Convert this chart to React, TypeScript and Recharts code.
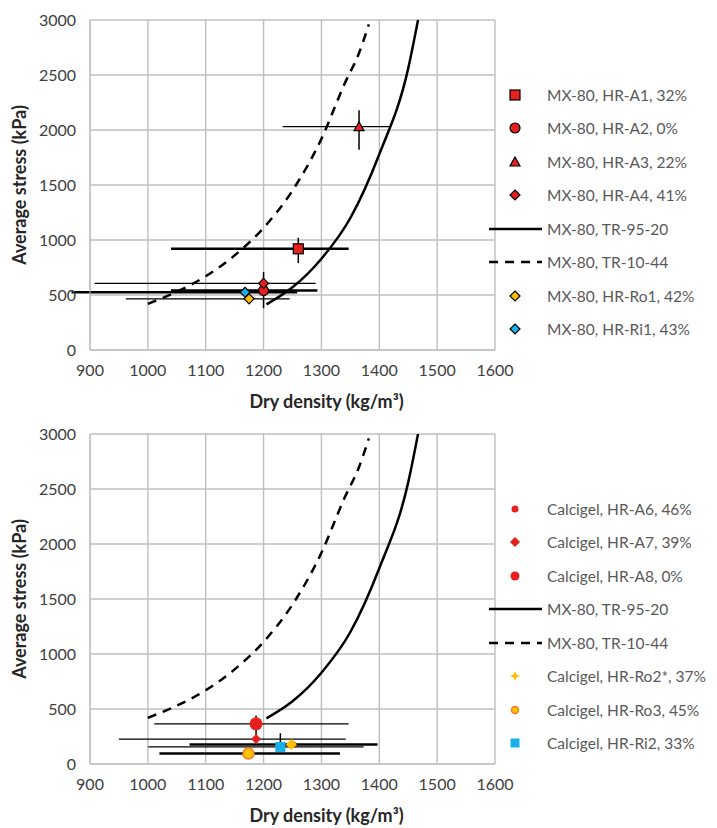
import {
  CartesianGrid,
  ComposedChart,
  ErrorBar,
  Line,
  Scatter,
  XAxis,
  YAxis,
} from 'recharts';

const densityTicks = [900, 1000, 1100, 1200, 1300, 1400, 1500, 1600];
const stressTicks = [0, 500, 1000, 1500, 2000, 2500, 3000];

// reference curves (same in both panels)
const tr9520 = [
  { x: 1205, y: 415 },
  { x: 1250, y: 570 },
  { x: 1300, y: 830 },
  { x: 1350, y: 1200 },
  { x: 1400, y: 1780 },
  { x: 1450, y: 2560 },
  { x: 1467, y: 3000 },
];
const tr1044 = [
  { x: 1000, y: 420 },
  { x: 1050, y: 530 },
  { x: 1100, y: 670 },
  { x: 1150, y: 860 },
  { x: 1200, y: 1110 },
  { x: 1250, y: 1450 },
  { x: 1300, y: 1920 },
  { x: 1340, y: 2420 },
  { x: 1365, y: 2700 },
  { x: 1382, y: 2960 },
];

// MX-80 tests (top panel); ex / ey = [minus, plus]
const hrA1 = [{ x: 1260, y: 920, ex: [220, 87], ey: [130, 100] }];
const hrA2 = [{ x: 1200, y: 540, ex: [160, 93], ey: [160, 170] }];
const hrA3 = [{ x: 1365, y: 2030, ex: [132, 52], ey: [210, 150] }];
const hrA4 = [{ x: 1200, y: 605, ex: [292, 90] }];
const hrRo1 = [{ x: 1175, y: 465, ex: [213, 70] }];
const hrRi1 = [{ x: 1168, y: 525, ex: [300, 90] }];

// Calcigel tests (bottom panel)
const hrA6 = [{ x: 1250, y: 178 }];
const hrA7 = [{ x: 1187, y: 227, ex: [237, 155] }];
const hrA8 = [{ x: 1187, y: 365, ex: [176, 160], ey: [140, 75] }];
const hrRo2 = [{ x: 1248, y: 178, ex: [176, 149] }];
const hrRo3 = [{ x: 1174, y: 95, ex: [154, 158] }];
const hrRi2 = [{ x: 1229, y: 155, ex: [228, 144], ey: [0, 125] }];

const RED = '#e5201f';
const YELLOW = '#ffc000';
const BLUE = '#1aafe6';
const GRID = '#bfbfbf';
const FONT = 'Lato, "Open Sans", sans-serif';

type Kind = 'square' | 'circle' | 'triangle' | 'diamond' | 'star';
interface MarkStyle {
  kind: Kind;
  size: number;
  fill: string;
  stroke?: string;
  sw?: number;
}

function Mark({ cx, cy, m }: { cx: number; cy: number; m: MarkStyle }) {
  const r = m.size / 2;
  const stroke = m.stroke ?? 'none';
  const sw = m.sw ?? 1.2;
  if (m.kind === 'square')
    return <rect x={cx - r} y={cy - r} width={m.size} height={m.size} fill={m.fill} stroke={stroke} strokeWidth={sw} />;
  if (m.kind === 'circle') return <circle cx={cx} cy={cy} r={r} fill={m.fill} stroke={stroke} strokeWidth={sw} />;
  if (m.kind === 'triangle')
    return (
      <polygon
        points={`${cx},${cy - r} ${cx + r},${cy + r * 0.8} ${cx - r},${cy + r * 0.8}`}
        fill={m.fill}
        stroke={stroke}
        strokeWidth={sw}
      />
    );
  if (m.kind === 'star') {
    const q = r * 0.3;
    return (
      <polygon
        points={`${cx},${cy - r} ${cx + q},${cy - q} ${cx + r},${cy} ${cx + q},${cy + q} ${cx},${cy + r} ${cx - q},${cy + q} ${cx - r},${cy} ${cx - q},${cy - q}`}
        fill={m.fill}
      />
    );
  }
  return (
    <polygon
      points={`${cx},${cy - r} ${cx + r},${cy} ${cx},${cy + r} ${cx - r},${cy}`}
      fill={m.fill}
      stroke={stroke}
      strokeWidth={sw}
    />
  );
}

interface PointSeries {
  name: string;
  data: { x: number; y: number; ex?: number[]; ey?: number[] }[];
  mark: MarkStyle;
  legendMark?: MarkStyle;
  exWidth?: number;
}

interface LegendRow {
  name: string;
  mark?: MarkStyle;
  line?: 'solid' | 'dash';
}

const topSeries: PointSeries[] = [
  { name: 'MX-80, HR-A1, 32%', data: hrA1, mark: { kind: 'square', size: 10, fill: RED, stroke: '#000' }, exWidth: 2.5 },
  { name: 'MX-80, HR-A2, 0%', data: hrA2, mark: { kind: 'circle', size: 10, fill: RED, stroke: '#000' }, exWidth: 2.5 },
  { name: 'MX-80, HR-A3, 22%', data: hrA3, mark: { kind: 'triangle', size: 10, fill: RED, stroke: '#000' }, exWidth: 1.3 },
  { name: 'MX-80, HR-A4, 41%', data: hrA4, mark: { kind: 'diamond', size: 10, fill: RED, stroke: '#000' }, exWidth: 1.3 },
  { name: 'MX-80, HR-Ro1, 42%', data: hrRo1, mark: { kind: 'diamond', size: 10, fill: YELLOW, stroke: '#000' }, exWidth: 1.3 },
  { name: 'MX-80, HR-Ri1, 43%', data: hrRi1, mark: { kind: 'diamond', size: 10, fill: BLUE, stroke: '#000' }, exWidth: 2.5 },
];

const bottomSeries: PointSeries[] = [
  { name: 'Calcigel, HR-A6, 46%', data: hrA6, mark: { kind: 'circle', size: 7, fill: RED } },
  { name: 'Calcigel, HR-A7, 39%', data: hrA7, mark: { kind: 'diamond', size: 10, fill: RED }, exWidth: 1.3 },
  { name: 'Calcigel, HR-A8, 0%', data: hrA8, mark: { kind: 'circle', size: 13, fill: RED }, legendMark: { kind: 'circle', size: 9, fill: RED }, exWidth: 1.3 },
  { name: 'Calcigel, HR-Ro2*, 37%', data: hrRo2, mark: { kind: 'diamond', size: 11, fill: YELLOW }, legendMark: { kind: 'star', size: 10, fill: YELLOW }, exWidth: 2.5 },
  { name: 'Calcigel, HR-Ro3, 45%', data: hrRo3, mark: { kind: 'circle', size: 11, fill: YELLOW, stroke: '#f07d2a', sw: 1.5 }, legendMark: { kind: 'circle', size: 7, fill: YELLOW, stroke: '#f07d2a', sw: 1.5 }, exWidth: 2.5 },
  { name: 'Calcigel, HR-Ri2, 33%', data: hrRi2, mark: { kind: 'square', size: 10, fill: BLUE }, legendMark: { kind: 'square', size: 9, fill: BLUE }, exWidth: 1.3 },
];

const topLegend: LegendRow[] = [
  ...topSeries.slice(0, 4).map((s) => ({ name: s.name, mark: s.mark })),
  { name: 'MX-80, TR-95-20', line: 'solid' as const },
  { name: 'MX-80, TR-10-44', line: 'dash' as const },
  ...topSeries.slice(4).map((s) => ({ name: s.name, mark: s.mark })),
];

const bottomLegend: LegendRow[] = [
  ...bottomSeries.slice(0, 3).map((s) => ({ name: s.name, mark: s.legendMark ?? s.mark })),
  { name: 'MX-80, TR-95-20', line: 'solid' as const },
  { name: 'MX-80, TR-10-44', line: 'dash' as const },
  ...bottomSeries.slice(3).map((s) => ({ name: s.name, mark: s.legendMark ?? s.mark })),
];

function LegendBox({ rows, top }: { rows: LegendRow[]; top: number }) {
  return (
    <div style={{ position: 'absolute', left: 488, top, width: 240 }}>
      {rows.map((r) => (
        <div key={r.name} style={{ height: 33.5, display: 'flex', alignItems: 'center' }}>
          <svg width={56} height={20} style={{ flex: 'none' }}>
            {r.line ? (
              <line
                x1={1}
                x2={54}
                y1={10}
                y2={10}
                stroke="#000"
                strokeWidth={2.5}
                strokeDasharray={r.line === 'dash' ? '9 7' : undefined}
              />
            ) : (
              r.mark && <Mark cx={27} cy={10} m={r.mark} />
            )}
          </svg>
          <span style={{ fontFamily: FONT, fontSize: 15.5, color: '#595959', whiteSpace: 'nowrap', marginLeft: 3 }}>
            {r.name}
          </span>
        </div>
      ))}
    </div>
  );
}

function Panel({ series, legend, top }: { series: PointSeries[]; legend: LegendRow[]; top: number }) {
  const tick = { fontFamily: FONT, fontSize: 16, fill: '#404040' };
  const title = { fontFamily: FONT, fontSize: 18, fontWeight: 700, fill: '#262626' };
  return (
    <div style={{ position: 'absolute', left: 0, top, width: 717, height: 414 }}>
      <ComposedChart width={717} height={414} margin={{ top: 20, right: 222, bottom: 4, left: 0 }}>
        <CartesianGrid stroke={GRID} strokeWidth={1.4} />
        <XAxis
          type="number"
          dataKey="x"
          domain={[900, 1600]}
          ticks={densityTicks}
          allowDataOverflow
          height={60}
          tickLine={false}
          tickSize={0}
          tickMargin={15}
          stroke={GRID}
          tick={tick}
          label={{ value: 'Dry density (kg/m³)', position: 'insideBottom', offset: 2, dx: 34, style: title }}
        />
        <YAxis
          type="number"
          dataKey="y"
          domain={[0, 3000]}
          ticks={stressTicks}
          allowDataOverflow
          width={90}
          tickLine={false}
          tickSize={0}
          tickMargin={14}
          stroke={GRID}
          tick={tick}
          label={{
            value: 'Average stress (kPa)',
            angle: -90,
            position: 'insideLeft',
            offset: 20,
            style: { ...title, textAnchor: 'middle' },
          }}
        />
        <Line
          data={tr9520}
          dataKey="y"
          type="monotone"
          stroke="#000"
          strokeWidth={2.5}
          dot={false}
          isAnimationActive={false}
        />
        <Line
          data={tr1044}
          dataKey="y"
          type="monotone"
          stroke="#000"
          strokeWidth={2.5}
          strokeDasharray="9 7"
          dot={false}
          isAnimationActive={false}
        />
        {series.map((s) => (
          <Scatter
            key={s.name}
            name={s.name}
            data={s.data}
            isAnimationActive={false}
            shape={(p: any) => <Mark cx={p.cx} cy={p.cy} m={s.mark} />}
          >
            {s.data[0].ex && (
              <ErrorBar dataKey="ex" direction="x" width={0} stroke="#000" strokeWidth={s.exWidth ?? 1.3} />
            )}
            {s.data[0].ey && <ErrorBar dataKey="ey" direction="y" width={0} stroke="#000" strokeWidth={1.5} />}
          </Scatter>
        ))}
      </ComposedChart>
      <LegendBox rows={legend} top={78} />
    </div>
  );
}

export default function App() {
  return (
    <div style={{ position: 'absolute', left: 0, top: 0, width: 717, height: 828, overflow: 'hidden', background: '#fff' }}>
      <Panel series={topSeries} legend={topLegend} top={0} />
      <Panel series={bottomSeries} legend={bottomLegend} top={414} />
    </div>
  );
}
